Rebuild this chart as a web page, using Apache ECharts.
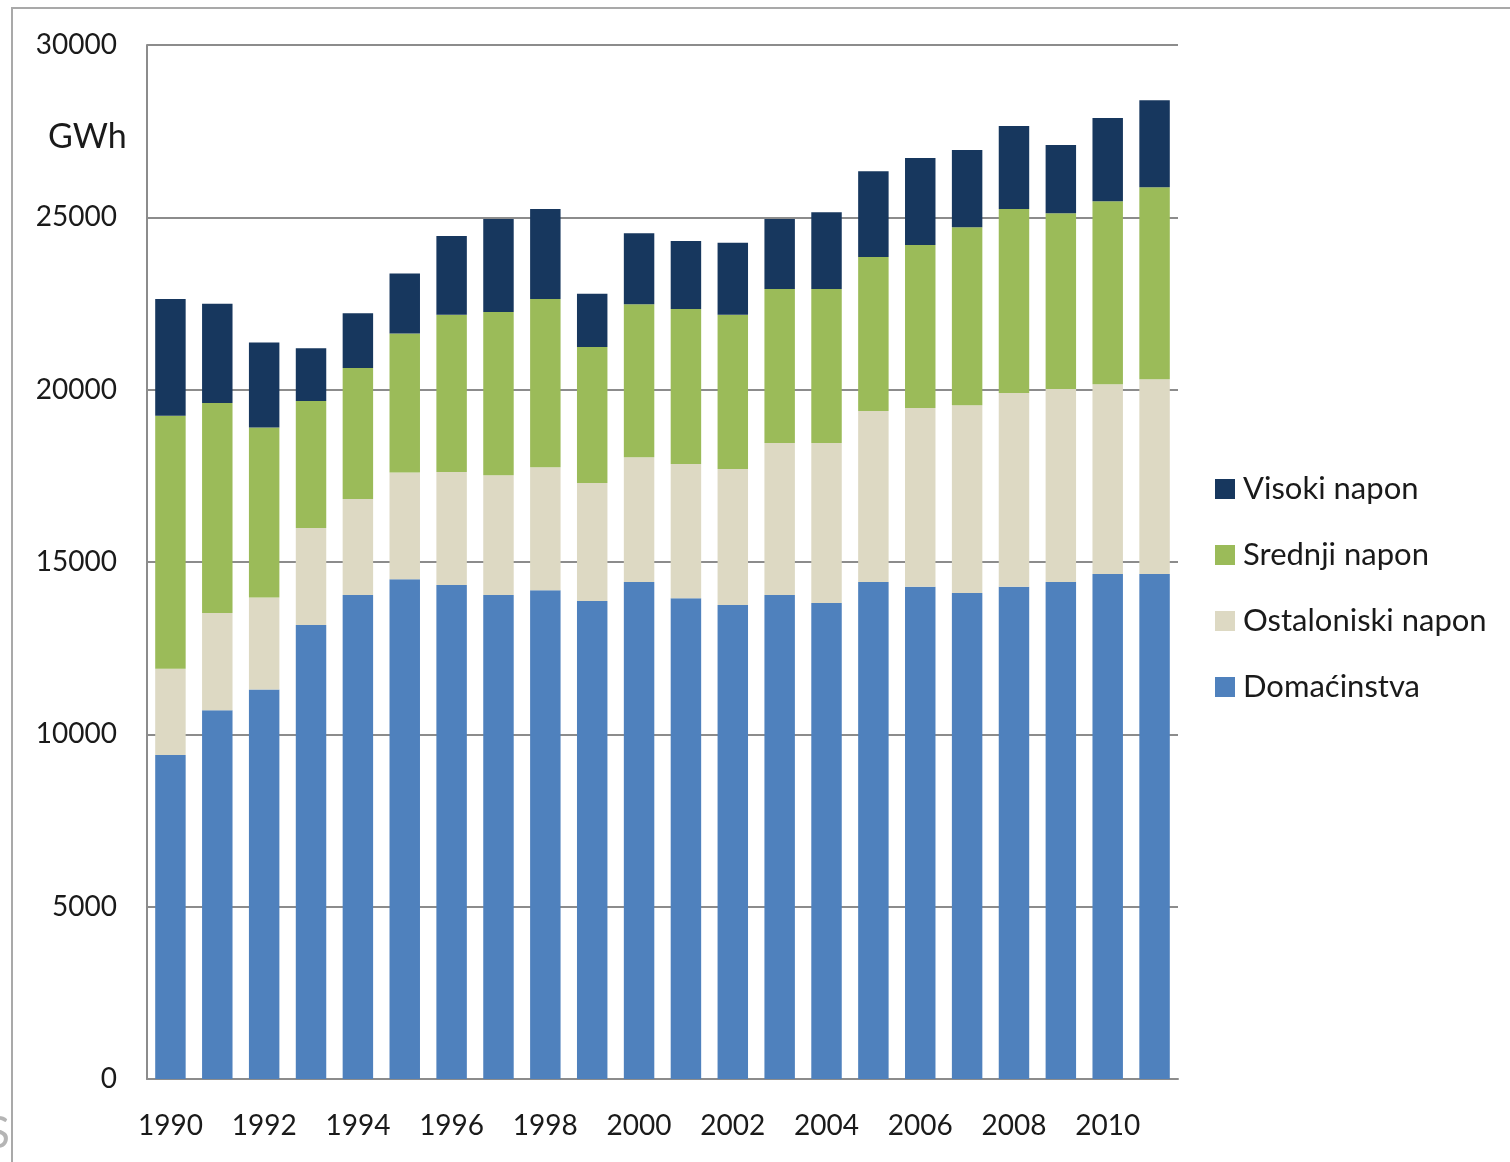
<!DOCTYPE html>
<html>
<head>
    <meta charset="utf-8">
    <script src="https://cdn.jsdelivr.net/npm/echarts@6/dist/echarts.min.js"></script>
</head>
<body style="margin:0;background:#fff;">
    <div id="main" style="width:1510px;height:1162px;"></div>
    <script type="text/javascript">
    // godine
    var years = ['1990','1991','1992','1993','1994','1995','1996','1997','1998','1999','2000',
                 '2001','2002','2003','2004','2005','2006','2007','2008','2009','2010','2011'];
    // GWh po kategorijama (procjena sa slike)
    var domacinstva = [9400,10700,11300,13170,14040,14500,14330,14040,14180,13870,14420,
                       13950,13750,14040,13810,14420,14280,14100,14280,14420,14650,14650];
    var ostaloNiski = [2500,2820,2670,2820,2790,3100,3280,3480,3570,3420,3620,
                       3890,3950,4410,4640,4960,5190,5450,5620,5600,5510,5650];
    var srednjiNapon = [7340,6090,4930,3680,3800,4030,4560,4730,4880,3950,4440,
                        4500,4470,4470,4470,4470,4730,5160,5340,5100,5310,5570];
    var visokiNapon = [3390,2880,2470,1530,1590,1740,2290,2700,2610,1540,2060,
                       1970,2090,2030,2230,2490,2520,2240,2410,1980,2410,2530];

    var fnt = 'Lato, "Open Sans", sans-serif';
    var myChart = echarts.init(document.getElementById('main'));

    function bar(name, data, color) {
        return {
            name: name,
            type: 'bar',
            stack: 'ukupno',
            barWidth: '65%',
            data: data,
            itemStyle: { color: color },
            emphasis: { disabled: true }
        };
    }

    myChart.setOption({
        animation: false,
        textStyle: { fontFamily: fnt },
        grid: { left: 147, right: 332, top: 45, bottom: 83 },
        graphic: [
            {
                type: 'rect',
                shape: { x: 12, y: 8, width: 1600, height: 1300 },
                style: { fill: 'none', stroke: '#a9a9a9', lineWidth: 2 },
                silent: true
            },
            {
                type: 'text',
                left: 48, top: 120,
                style: { text: 'GWh', font: '34px ' + fnt, fill: '#1a1a1a' }
            },
            {
                type: 'text',
                left: -14, top: 1112,
                style: { text: 'S', font: '44px ' + fnt, fill: '#b5b5b5' }
            }
        ],
        legend: {
            orient: 'vertical',
            left: 1210,
            top: 466,
            itemWidth: 20,
            itemHeight: 20,
            itemGap: 30,
            icon: 'rect',
            data: ['Visoki napon', 'Srednji napon', 'Ostaloniski napon', 'Domaćinstva'],
            textStyle: { fontSize: 31, lineHeight: 36, color: '#1a1a1a', fontFamily: fnt, padding: [0, 0, 0, 3] }
        },
        xAxis: {
            type: 'category',
            data: years,
            axisLine: { lineStyle: { color: '#8c8c8c', width: 2 } },
            axisTick: { show: false },
            axisLabel: { interval: 1, fontSize: 28, color: '#1a1a1a', margin: 33 }
        },
        yAxis: {
            type: 'value',
            min: 0,
            max: 30000,
            interval: 5000,
            axisLine: { show: true, lineStyle: { color: '#8c8c8c', width: 2 } },
            axisTick: { show: false },
            splitLine: { lineStyle: { color: '#8c8c8c', width: 2 } },
            axisLabel: {
                fontSize: 28, color: '#1a1a1a', margin: 30, padding: [6, 0, 0, 0],
                formatter: function (v) { return String(v); }
            }
        },
        series: [
            bar('Domaćinstva', domacinstva, '#4f81bd'),
            bar('Ostaloniski napon', ostaloNiski, '#ddd9c3'),
            bar('Srednji napon', srednjiNapon, '#9bbb59'),
            bar('Visoki napon', visokiNapon, '#17375e')
        ]
    });
    </script>
</body>
</html>
